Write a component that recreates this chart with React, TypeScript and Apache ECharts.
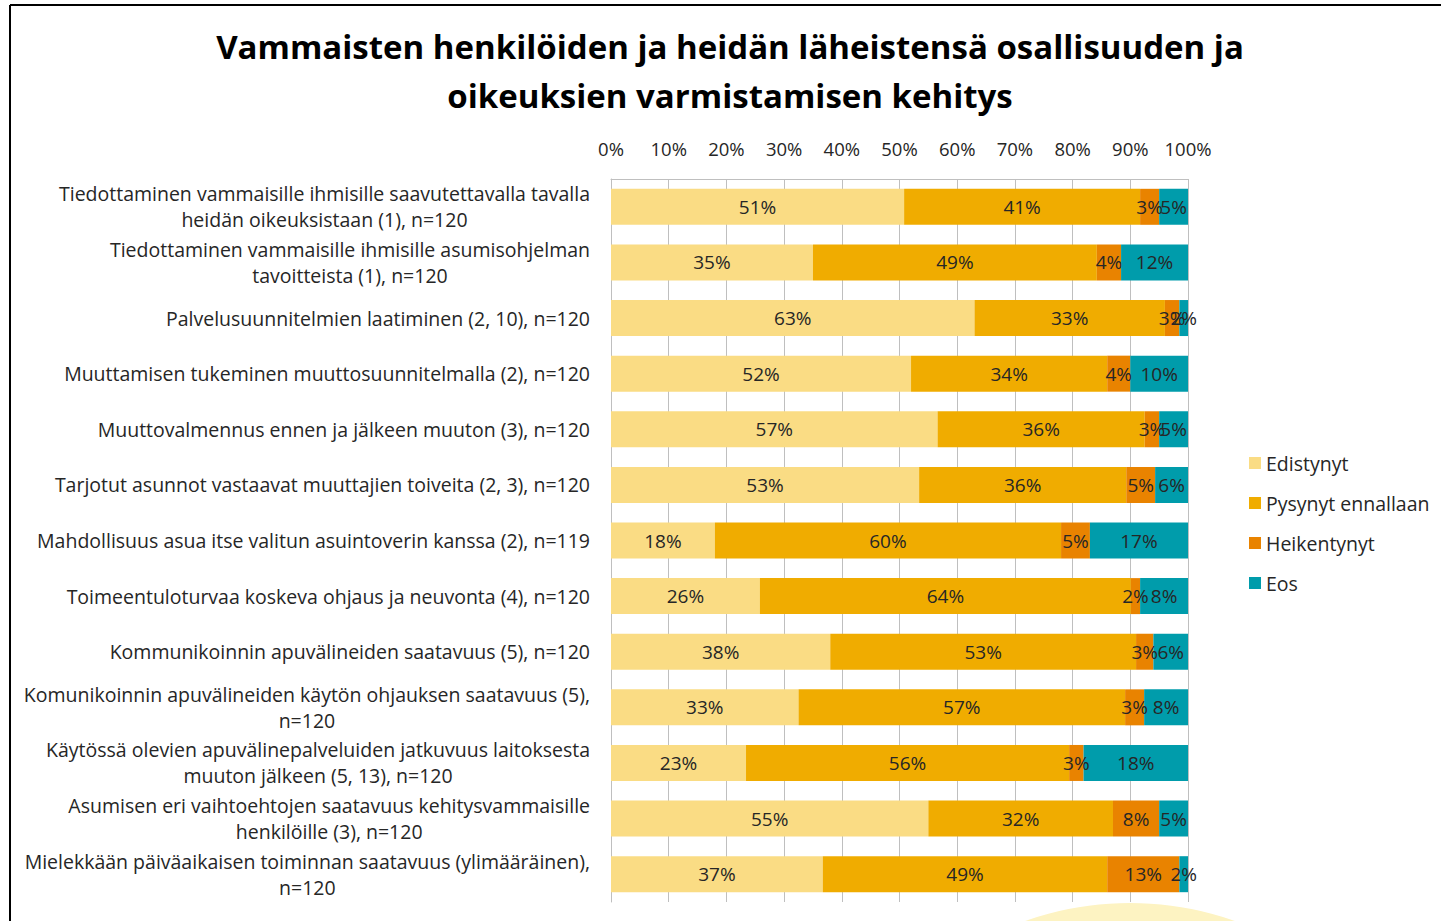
import React, { useEffect, useRef } from "react";
import * as echarts from "echarts";

const categories = [
  "Tiedottaminen vammaisille ihmisille saavutettavalla tavalla\nheidän oikeuksistaan (1), n=120",
  "Tiedottaminen vammaisille ihmisille asumisohjelman\ntavoitteista (1), n=120",
  "Palvelusuunnitelmien laatiminen (2, 10), n=120",
  "Muuttamisen tukeminen muuttosuunnitelmalla (2), n=120",
  "Muuttovalmennus ennen ja jälkeen muuton (3), n=120",
  "Tarjotut asunnot vastaavat muuttajien toiveita (2, 3), n=120",
  "Mahdollisuus asua itse valitun asuintoverin kanssa (2), n=119",
  "Toimeentuloturvaa koskeva ohjaus ja neuvonta (4), n=120",
  "Kommunikoinnin apuvälineiden saatavuus (5), n=120",
  "Komunikoinnin apuvälineiden käytön ohjauksen saatavuus (5),\nn=120",
  "Käytössä olevien apuvälinepalveluiden jatkuvuus laitoksesta\nmuuton jälkeen (5, 13), n=120",
  "Asumisen eri vaihtoehtojen saatavuus kehitysvammaisille\nhenkilöille (3), n=120",
  "Mielekkään päiväaikaisen toiminnan saatavuus (ylimääräinen),\nn=120",
];

const seriesNames = ["Edistynyt", "Pysynyt ennallaan", "Heikentynyt", "Eos"];

const edistynyt = [50.8, 35.0, 63.0, 52.0, 56.6, 53.4, 18.0, 25.8, 38.0, 32.5, 23.4, 55.0, 36.7];
const pysynyt = [40.9, 49.2, 33.0, 34.0, 35.9, 35.9, 60.0, 64.3, 53.0, 56.6, 56.0, 32.0, 49.3];
const heikentynyt = [3.3, 4.2, 2.5, 4.0, 2.5, 5.0, 5.0, 1.6, 3.0, 3.3, 2.5, 8.0, 12.5];
const eos = [5.0, 11.6, 1.5, 10.0, 5.0, 5.7, 17.0, 8.3, 6.0, 7.6, 18.1, 5.0, 1.5];

const colors = ["#FADC84", "#F0AC00", "#E98300", "#009CAB"];

const FONT = "'Open Sans', 'Noto Sans', sans-serif";

export default function App() {
  const ref = useRef<HTMLDivElement>(null);

  useEffect(() => {
    if (!ref.current) return;
    const chart = echarts.init(ref.current, undefined, { renderer: "svg" });
    const datasets = [edistynyt, pysynyt, heikentynyt, eos];
    chart.setOption({
      animation: false,
      backgroundColor: "#ffffff",
      textStyle: { fontFamily: FONT },
      title: {
        text: "Vammaisten henkilöiden ja heidän läheistensä osallisuuden ja\noikeuksien varmistamisen kehitys",
        left: 730,
        top: 22,
        padding: 0,
        textAlign: "center",
        textStyle: {
          fontFamily: FONT,
          fontSize: 33,
          fontWeight: "bold",
          color: "#000000",
          lineHeight: 49,
        },
      },
      legend: {
        orient: "vertical",
        left: 1249,
        top: 453,
        padding: 0,
        itemWidth: 12,
        itemHeight: 12,
        itemGap: 20,
        icon: "rect",
        data: seriesNames,
        textStyle: { fontFamily: FONT, fontSize: 19.5, color: "#262626" },
      },
      graphic: [
        {
          type: "circle",
          shape: { cx: 1130, cy: 1218, r: 315 },
          style: { fill: "#FDF3C2" },
          z: -1,
        },
        {
          type: "line",
          shape: { x1: 10, y1: 5, x2: 1441, y2: 5 },
          style: { stroke: "#000000", lineWidth: 2 },
        },
        {
          type: "line",
          shape: { x1: 10, y1: 5, x2: 10, y2: 921 },
          style: { stroke: "#000000", lineWidth: 2 },
        },
      ],
      grid: { left: 611, right: 253, top: 179, bottom: 19 },
      xAxis: {
        type: "value",
        position: "top",
        min: 0,
        max: 100,
        interval: 10,
        axisLine: { show: true, lineStyle: { color: "#BFBFBF", width: 1 } },
        axisTick: { show: false },
        axisLabel: {
          formatter: "{value}%",
          fontFamily: FONT,
          fontSize: 18.5,
          color: "#262626",
          margin: 21,
        },
        splitLine: { show: true, lineStyle: { color: "#BFBFBF", width: 1 } },
      },
      yAxis: {
        type: "category",
        inverse: true,
        data: categories,
        axisLine: { show: true, lineStyle: { color: "#BFBFBF" } },
        axisTick: { show: false },
        axisLabel: {
          margin: 21,
          align: "right",
          formatter: (v: string) => `{c|${v}}`,
          rich: {
            c: {
              align: "center",
              fontFamily: FONT,
              fontSize: 19.5,
              lineHeight: 26,
              color: "#262626",
            },
          },
        },
      },
      series: seriesNames.map((name, i) => ({
        name,
        type: "bar",
        stack: "total",
        barWidth: 36,
        itemStyle: { color: colors[i] },
        label: {
          show: true,
          position: "inside",
          fontFamily: FONT,
          fontSize: 19,
          color: "#262626",
          formatter: (p: any) => `${Math.round(p.value)}%`,
        },
        data: datasets[i],
      })),
    });
    return () => chart.dispose();
  }, []);

  return (
    <div
      ref={ref}
      style={{ position: "fixed", left: 0, top: 0, width: 1441, height: 921 }}
    />
  );
}
